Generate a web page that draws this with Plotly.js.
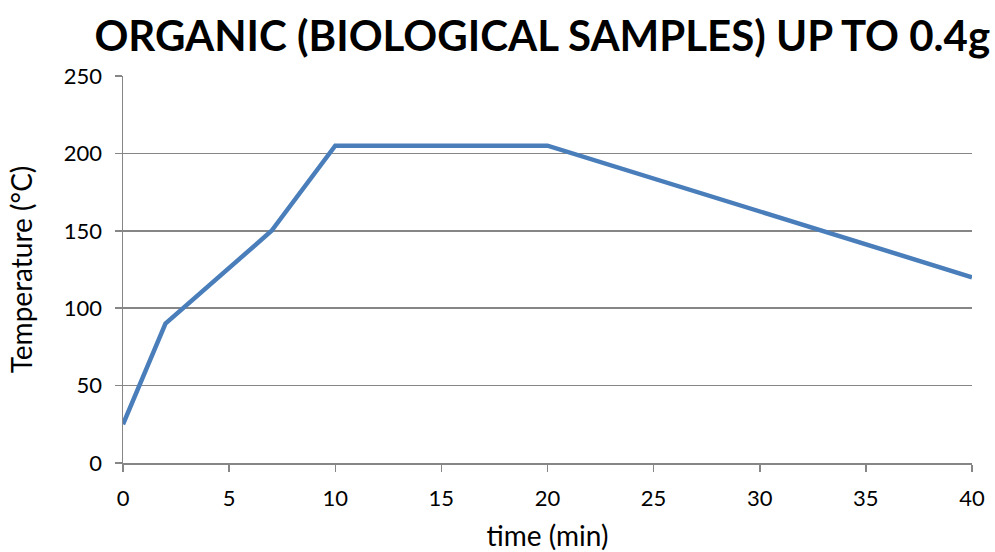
<!DOCTYPE html>
<html>
<head>
<meta charset="utf-8">
<script src="https://cdn.plot.ly/plotly-3.0.1.min.js"></script>
<style>
  html, body { margin: 0; padding: 0; background: #fff; }
  #chart { width: 995px; height: 552px; }
</style>
</head>
<body>
<div id="chart"></div>
<script>
// Temperature program: time (min) vs temperature (°C)
const timeMin = [0, 2, 7, 10, 20, 40];
const temperatureC = [25, 90, 150, 205, 205, 120];
const xTicks = [0, 5, 10, 15, 20, 25, 30, 35, 40];
const yTicks = [0, 50, 100, 150, 200, 250];

const font = 'Lato, "Open Sans", sans-serif';

const trace = {
  x: timeMin,
  y: temperatureC,
  type: 'scatter',
  mode: 'lines',
  line: { color: '#4a7ebb', width: 4.5 },
  hoverinfo: 'x+y'
};

const layout = {
  width: 995,
  height: 552,
  margin: { l: 123, r: 23, t: 76, b: 89 },
  paper_bgcolor: '#ffffff',
  plot_bgcolor: '#ffffff',
  showlegend: false,
  title: {
    text: '<b>ORGANIC (BIOLOGICAL SAMPLES) UP TO 0.4g</b>',
    font: { family: font, size: 42, color: '#000000' },
    x: 0.545, xanchor: 'center',
    y: 0.935, yanchor: 'middle'
  },
  xaxis: {
    range: [0, 40],
    tickvals: xTicks,
    ticktext: xTicks.map(String),
    showgrid: false,
    zeroline: false,
    showline: true,
    linecolor: '#868686',
    linewidth: 1.5,
    ticks: 'outside',
    ticklen: 7,
    tickcolor: '#868686',
    tickwidth: 1.5,
    ticklabelstandoff: 8,
    tickfont: { family: font, size: 22, color: '#000000' },
    title: { text: 'time (min)', font: { family: font, size: 28, color: '#000000' }, standoff: 22 },
    fixedrange: true
  },
  yaxis: {
    range: [0, 250],
    tickvals: yTicks,
    ticktext: yTicks.map(String),
    showgrid: true,
    gridcolor: '#868686',
    gridwidth: 1.5,
    zeroline: false,
    showline: true,
    linecolor: '#868686',
    linewidth: 1.5,
    ticks: 'outside',
    ticklen: 7,
    tickcolor: '#868686',
    tickwidth: 1.5,
    ticklabelstandoff: 8,
    tickfont: { family: font, size: 22, color: '#000000' },
    title: { text: 'Temperature (°C)', font: { family: font, size: 28, color: '#000000' }, standoff: 23 },
    fixedrange: true
  }
};

Plotly.newPlot('chart', [trace], layout, { displayModeBar: false, staticPlot: true });
</script>
</body>
</html>
